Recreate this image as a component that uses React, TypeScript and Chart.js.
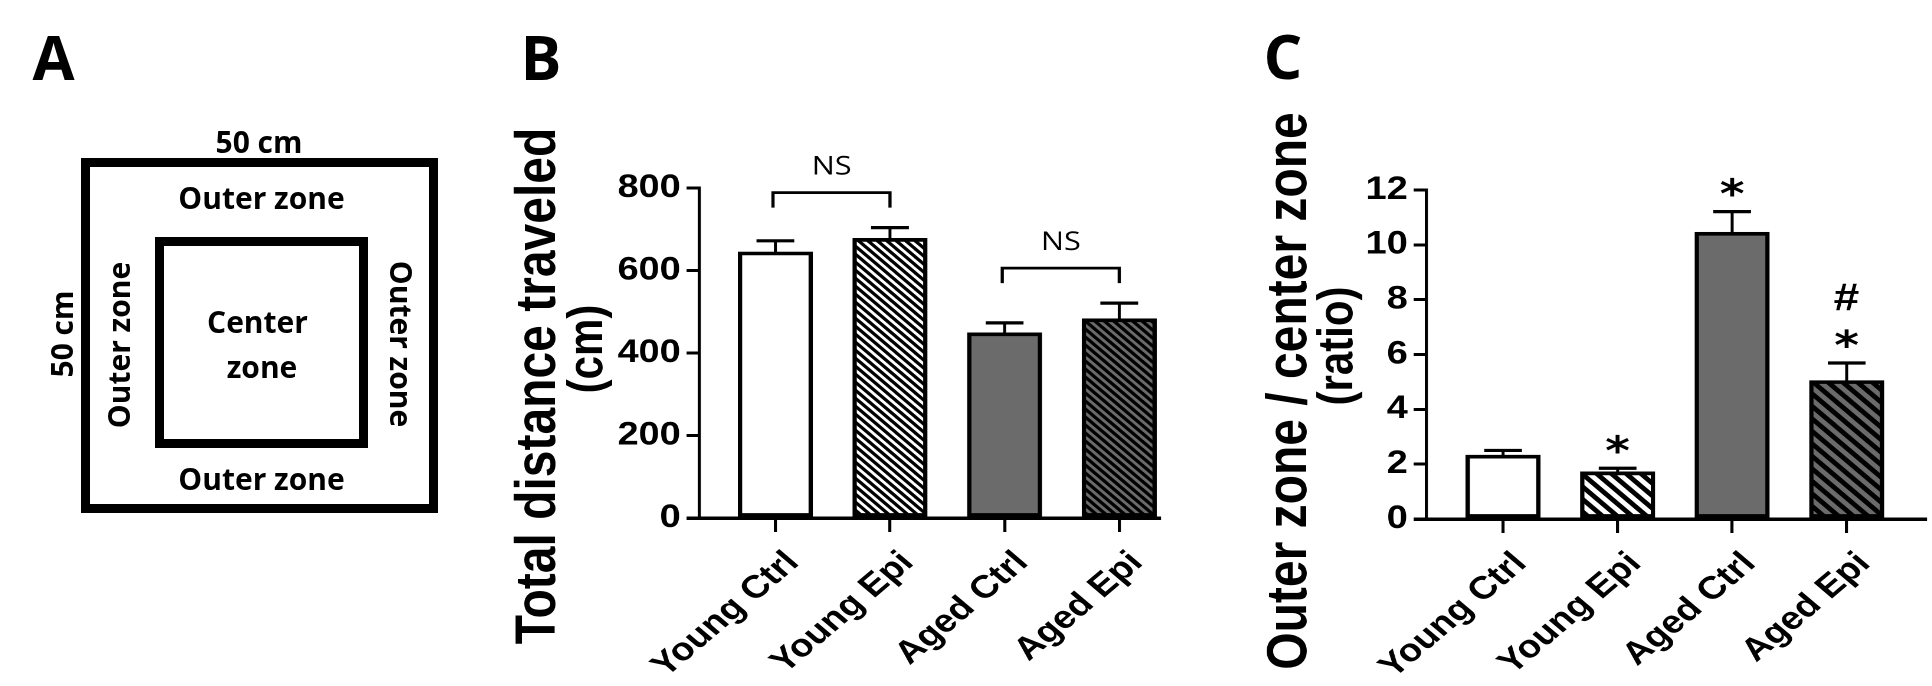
import React, { useEffect, useRef } from 'react';
import { Chart, registerables } from 'chart.js';

Chart.register(...registerables);

// ---------------- data ----------------
const categories = ['Young Ctrl', 'Young Epi', 'Aged Ctrl', 'Aged Epi'];

const distanceMean = [645, 678, 449, 483];
const distanceSem = [27, 26, 24, 38];
const distanceTicks = [0, 200, 400, 600, 800];
const distanceTitle = ['Total distance traveled', '(cm)'];
const distanceBrackets = [
  [0, 1],
  [2, 3],
];
const distanceBracketText = ['NS', 'NS'];

const ratioMean = [2.33, 1.72, 10.46, 5.05];
const ratioSem = [0.17, 0.13, 0.75, 0.64];
const ratioTicks = [0, 2, 4, 6, 8, 10, 12];
const ratioTitle = ['Outer zone / center zone', '(ratio)'];
const ratioStars = ['', '*', '*', '*'];
const ratioHashes = ['', '', '', '#'];

// ---------------- helpers ----------------
const AX = '"Liberation Sans", Arial, sans-serif';
const OS = '"Open Sans", sans-serif';
const STRETCH = 1.18; // panels B and C are horizontally stretched in the original figure

function alignPx(v: number, w: number) {
  const h = w / 2;
  return Math.round((v - h) * 2) / 2 + h;
}

function makeHatch(bg: string, period: number, lw: number): CanvasPattern | string {
  const k2 = 2;
  const p = Math.round(period * k2);
  const c = document.createElement('canvas');
  c.width = p;
  c.height = p;
  const g = c.getContext('2d');
  if (!g) return bg;
  g.fillStyle = bg;
  g.fillRect(0, 0, p, p);
  g.strokeStyle = '#000';
  g.lineWidth = lw * k2;
  for (let k = -1; k <= 1; k++) {
    g.beginPath();
    g.moveTo(k * p - 4, -4);
    g.lineTo(k * p + p + 4, p + 4);
    g.stroke();
  }
  const pat = g.createPattern(c, 'repeat');
  if (!pat) return bg;
  try {
    pat.setTransform(new DOMMatrix([1 / k2, 0, 0, 1 / k2, 0, 0]));
  } catch (e) {
    /* ignore */
  }
  return pat;
}

function inkText(ctx: CanvasRenderingContext2D, text: string, cx: number, cy: number) {
  ctx.textAlign = 'left';
  ctx.textBaseline = 'alphabetic';
  const m = ctx.measureText(text);
  const x = cx - (m.actualBoundingBoxRight - m.actualBoundingBoxLeft) / 2;
  const y = cy + (m.actualBoundingBoxAscent - m.actualBoundingBoxDescent) / 2;
  ctx.fillText(text, x, y);
}

type TitleLine = { text: string; size: number; baseX: number; centerY: number };

function overlayPlugin(cfg: {
  means: number[];
  sems: number[];
  titles: TitleLine[];
  brackets?: number[][];
  bracketText?: string[];
  stars?: string[];
  hashes?: string[];
}) {
  return {
    id: 'overlay',
    afterDatasetsDraw(chart: any) {
      const ctx: CanvasRenderingContext2D = chart.ctx;
      const ys = chart.scales.y;
      const area = chart.chartArea;
      const meta = chart.getDatasetMeta(0);
      ctx.save();
      ctx.strokeStyle = '#000';
      ctx.fillStyle = '#000';
      ctx.lineCap = 'butt';

      // error bars (upper only)
      const caps: number[] = [];
      meta.data.forEach((el: any, i: number) => {
        const cx = el.x;
        const capY = ys.getPixelForValue(cfg.means[i] + cfg.sems[i]);
        caps.push(capY);
        ctx.lineWidth = 2.5;
        ctx.beginPath();
        ctx.moveTo(cx, el.y);
        ctx.lineTo(cx, capY);
        ctx.stroke();
        ctx.lineWidth = 3.2;
        ctx.beginPath();
        ctx.moveTo(cx - 16, capY);
        ctx.lineTo(cx + 16, capY);
        ctx.stroke();
      });

      // x axis extends left to the tick marks
      ctx.lineWidth = 3.5;
      const ay = alignPx(area.bottom, 3.5);
      ctx.beginPath();
      ctx.moveTo(area.left - 11, ay);
      ctx.lineTo(area.left + 1, ay);
      ctx.stroke();

      // brackets
      if (cfg.brackets) {
        cfg.brackets.forEach((pair, k) => {
          const a = meta.data[pair[0]];
          const b = meta.data[pair[1]];
          const top = Math.min(caps[pair[0]], caps[pair[1]]);
          const legY = top - 20;
          const barY = top - 35;
          ctx.lineWidth = 2.7;
          ctx.beginPath();
          ctx.moveTo(a.x - 2, legY);
          ctx.lineTo(a.x - 2, barY);
          ctx.lineTo(b.x, barY);
          ctx.lineTo(b.x, legY);
          ctx.stroke();
          ctx.font = `26px ${OS}`;
          inkText(ctx, (cfg.bracketText || [])[k] || '', (a.x + b.x) / 2, top - 62);
        });
      }

      // significance marks
      if (cfg.stars) {
        cfg.stars.forEach((s, i) => {
          if (!s) return;
          ctx.font = `bold 40px "DejaVu Sans", sans-serif`;
          inkText(ctx, s, meta.data[i].x, caps[i] - 25);
        });
      }
      if (cfg.hashes) {
        cfg.hashes.forEach((s, i) => {
          if (!s) return;
          ctx.font = `bold 39px ${AX}`;
          inkText(ctx, s, meta.data[i].x, caps[i] - 66);
        });
      }

      // y titles
      cfg.titles.forEach((t) => {
        ctx.save();
        ctx.font = `bold ${t.size}px ${AX}`;
        ctx.textAlign = 'center';
        ctx.textBaseline = 'alphabetic';
        ctx.translate(t.baseX, t.centerY);
        ctx.rotate(-Math.PI / 2);
        ctx.fillText(t.text, 0, 0);
        ctx.restore();
      });
      ctx.restore();
    },
  };
}

function buildChart(
  canvas: HTMLCanvasElement,
  o: {
    means: number[];
    yTicks: number[];
    yMax: number;
    fills: any[];
    xMin: number;
    xMax: number;
    yAxisWidth: number;
    xAxisHeight: number;
    padding: { top: number; right: number; bottom: number; left: number };
    plugin: any;
  }
) {
  return new Chart(canvas, {
    type: 'bar',
    data: {
      datasets: [
        {
          data: o.means.map((v, i) => ({ x: i, y: v })),
          backgroundColor: o.fills,
          borderColor: '#000',
          borderWidth: 3.7,
          borderSkipped: false,
          barThickness: 63,
        } as any,
      ],
    },
    options: {
      animation: false,
      responsive: false,
      maintainAspectRatio: false,
      devicePixelRatio: 2,
      layout: { padding: o.padding },
      plugins: { legend: { display: false }, tooltip: { enabled: false } },
      scales: {
        x: {
          type: 'linear',
          min: o.xMin,
          max: o.xMax,
          offset: false,
          grid: {
            display: true,
            drawOnChartArea: false,
            drawTicks: true,
            tickLength: 14,
            lineWidth: 2.6,
            color: '#000',
            offset: false,
          },
          border: { display: true, color: '#000', width: 3.5 },
          afterBuildTicks: (s: any) => {
            s.ticks = categories.map((_, i) => ({ value: i }));
          },
          afterFit: (s: any) => {
            s.height = o.xAxisHeight;
          },
          ticks: {
            autoSkip: false,
            minRotation: 45,
            maxRotation: 45,
            padding: 12,
            labelOffset: 15,
            color: '#000',
            font: { family: AX, weight: 'bold', size: 32 },
            callback: (v: any) => categories[Math.round(Number(v))] ?? '',
          },
        } as any,
        y: {
          type: 'linear',
          min: 0,
          max: o.yMax,
          grid: {
            display: true,
            drawOnChartArea: false,
            drawTicks: true,
            tickLength: 11,
            lineWidth: 3,
            color: '#000',
          },
          border: { display: true, color: '#000', width: 2.6 },
          afterBuildTicks: (s: any) => {
            s.ticks = o.yTicks.map((v) => ({ value: v }));
          },
          afterFit: (s: any) => {
            s.width = o.yAxisWidth;
          },
          ticks: {
            padding: 5,
            color: '#000',
            font: { family: AX, weight: 'bold', size: 32 },
          },
        } as any,
      },
    },
    plugins: [o.plugin],
  });
}

export default function App() {
  const bRef = useRef<HTMLCanvasElement>(null);
  const cRef = useRef<HTMLCanvasElement>(null);

  useEffect(() => {
    const gray = '#6b6b6b';
    const fillsB = ['#ffffff', makeHatch('#ffffff', 8, 3.0), gray, makeHatch(gray, 8, 3.0)];
    const fillsC = ['#ffffff', makeHatch('#ffffff', 12.5, 4.4), gray, makeHatch(gray, 12.5, 4.4)];

    const chartB = buildChart(bRef.current as HTMLCanvasElement, {
      means: distanceMean,
      yTicks: distanceTicks,
      yMax: 800,
      fills: fillsB,
      xMin: -0.662,
      xMax: 3.353,
      yAxisWidth: 186,
      xAxisHeight: 168,
      padding: { top: 188, right: 34, bottom: 0, left: 0 },
      plugin: overlayPlugin({
        means: distanceMean,
        sems: distanceSem,
        brackets: distanceBrackets,
        bracketText: distanceBracketText,
        titles: [
          { text: distanceTitle[0], size: 48, baseX: 63.5, centerY: 386 },
          { text: distanceTitle[1], size: 42, baseX: 103.5, centerY: 349 },
        ],
      }),
    });

    const chartC = buildChart(cRef.current as HTMLCanvasElement, {
      means: ratioMean,
      yTicks: ratioTicks,
      yMax: 12,
      fills: fillsC,
      xMin: -0.668,
      xMax: 3.69,
      yAxisWidth: 192,
      xAxisHeight: 167,
      padding: { top: 190, right: 5, bottom: 0, left: 0 },
      plugin: overlayPlugin({
        means: ratioMean,
        sems: ratioSem,
        stars: ratioStars,
        hashes: ratioHashes,
        titles: [
          { text: ratioTitle[0], size: 48, baseX: 90, centerY: 391 },
          { text: ratioTitle[1], size: 42, baseX: 129, centerY: 346 },
        ],
      }),
    });

    return () => {
      chartB.destroy();
      chartC.destroy();
    };
  }, []);

  const t30 = { fontFamily: OS, fontWeight: 700, fontSize: 30 } as any;
  const stretched = (left: number, w: number) =>
    ({
      position: 'absolute',
      left,
      top: 0,
      width: w,
      height: 686,
      transform: `scaleX(${STRETCH})`,
      transformOrigin: '0 0',
    }) as any;

  return (
    <div
      style={{
        position: 'absolute',
        left: 0,
        top: 0,
        width: 1932,
        height: 686,
        background: '#fff',
        overflow: 'hidden',
      }}
    >
      <canvas ref={bRef} width={610} height={686} style={stretched(480, 610)} />
      <canvas ref={cRef} width={620} height={686} style={stretched(1200, 620)} />
      <svg
        width={1932}
        height={686}
        style={{ position: 'absolute', left: 0, top: 0, pointerEvents: 'none' }}
      >
        <g fontFamily={OS} fontWeight={700} fill="#000" fontSize={61} textAnchor="middle">
          <text x={53.5} y={80}>A</text>
          <text x={541} y={80}>B</text>
          <text x={1283} y={79}>C</text>
        </g>
        <rect x={85.5} y={162.5} width={348} height={346} fill="none" stroke="#000" strokeWidth={9} />
        <rect x={159.5} y={241.5} width={204} height={202} fill="none" stroke="#000" strokeWidth={9} />
        <g fill="#000" textAnchor="middle" style={t30}>
          <text x={259} y={153}>50 cm</text>
          <text x={261.5} y={209}>Outer zone</text>
          <text x={261.5} y={490}>Outer zone</text>
          <text x={257.5} y={333}>Center</text>
          <text x={262} y={378}>zone</text>
          <text transform="translate(73,334) rotate(-90)">50 cm</text>
          <text transform="translate(130,345) rotate(-90)">Outer zone</text>
          <text transform="translate(390,344) rotate(90)">Outer zone</text>
        </g>
      </svg>
    </div>
  );
}
